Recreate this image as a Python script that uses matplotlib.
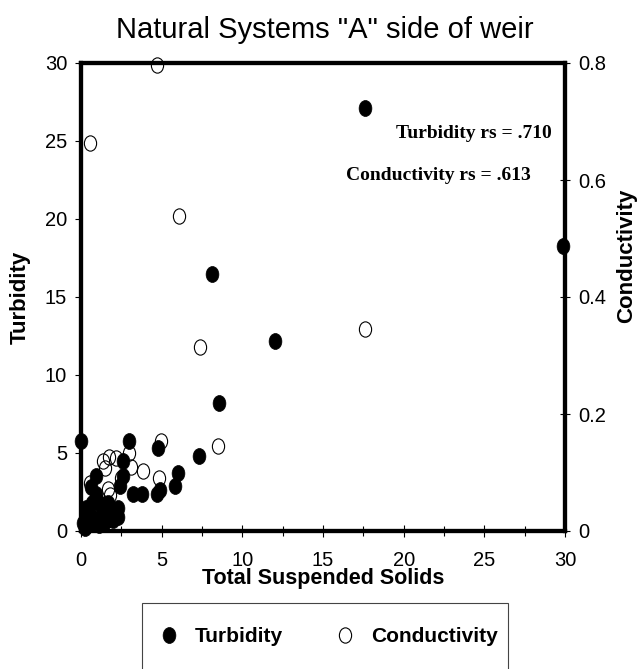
import matplotlib
matplotlib.use("Agg")
import matplotlib.pyplot as plt
from matplotlib.path import Path
from matplotlib.transforms import Affine2D
from matplotlib.patches import Rectangle
from matplotlib.ticker import MultipleLocator

plt.rcParams['font.family'] = ['Liberation Sans', 'DejaVu Sans']

# ---- data ----
turb_tss = [0.0, 17.6, 29.9, 8.1, 12.0, 8.55, 3.0, 4.8, 7.3, 6.0, 5.8, 2.6, 2.6,
            2.4, 3.2, 3.8, 4.7, 4.9, 0.9, 0.9, 0.7, 1.5, 2.1, 2.3, 1.6, 0.9,
            0.45, 0.25, 1.1, 1.8, 1.3, 0.5, 0.1, 1.2, 1.7, 2.0, 0.3, 2.3, 1.4,
            0.6, 1.0]
turbidity = [5.8, 27.1, 18.3, 16.5, 12.2, 8.2, 5.8, 5.3, 4.8, 3.7, 2.9, 4.5, 3.5,
             2.9, 2.4, 2.4, 2.4, 2.6, 3.5, 2.4, 1.8, 1.5, 1.3, 0.9, 0.7, 0.8,
             0.4, 0.2, 0.4, 1.1, 1.1, 1.1, 0.5, 1.7, 1.8, 0.7, 1.5, 1.5, 0.5,
             2.8, 2.0]
cond_tss = [4.7, 0.56, 6.05, 17.6, 7.4, 8.5, 4.96, 3.85, 4.84, 1.38, 1.75, 2.2,
            1.5, 2.98, 3.1, 1.7, 1.8, 0.56, 1.0, 0.5, 2.5]
conductivity = [0.797, 0.664, 0.538, 0.345, 0.315, 0.145, 0.153, 0.102, 0.09,
                0.12, 0.126, 0.125, 0.108, 0.133, 0.11, 0.072, 0.062, 0.082,
                0.05, 0.03, 0.09]
x_ticks = [0, 5, 10, 15, 20, 25, 30]
y_ticks = [0, 5, 10, 15, 20, 25, 30]
c_ticks = [0, 0.2, 0.4, 0.6, 0.8]
c_tick_labels = ['0', '0.2', '0.4', '0.6', '0.8']
title = 'Natural Systems "A" side of weir'
notes = ['Turbidity rs = .710', 'Conductivity rs = .613']

# ---- figure ----
fig = plt.figure(figsize=(6.4, 6.69), dpi=100)
ax = fig.add_axes([81/640, 1-531/669, 484/640, 468/669])
ax2 = ax.twinx()
ax.set_zorder(ax2.get_zorder() + 1)
ax.patch.set_visible(False)

ell = Path.unit_circle().transformed(Affine2D().scale(0.8, 1.0))

l2, = ax2.plot(cond_tss, conductivity, linestyle='none', marker=ell, ms=11,
               mfc='none', mec='black', mew=0.8, clip_on=False)
l1, = ax.plot(turb_tss, turbidity, linestyle='none', marker=ell, ms=11.5,
              mfc='black', mec='black', mew=0.5, clip_on=False)

ax.set_xlim(0, 30)
ax.set_ylim(0, 30)
ax2.set_ylim(0, 0.8)
ax.set_xticks(x_ticks)
ax.set_yticks(y_ticks)
ax2.set_yticks(c_ticks)
ax2.set_yticklabels(c_tick_labels)
ax.xaxis.set_minor_locator(MultipleLocator(2.5))

for a in (ax, ax2):
    for s in a.spines.values():
        s.set_linewidth(3)

ax.tick_params(axis='x', which='major', direction='inout', length=9, width=0.8,
               labelsize=14.5, pad=10)
ax.tick_params(axis='x', which='minor', direction='inout', length=7, width=0.8)
ax.tick_params(axis='y', which='major', direction='out', length=4, width=0.8,
               labelsize=14.5, pad=6)
ax2.tick_params(axis='y', which='major', direction='inout', length=7, width=0.8,
                labelsize=14.5, pad=6)

ax.set_xlabel('Total Suspended Solids', fontsize=15.5, fontweight='bold')
ax.xaxis.set_label_coords(0.5, -0.08)
ax.set_ylabel('Turbidity', fontsize=16, fontweight='bold', va='center', ha='center')
ax.yaxis.set_label_coords(-0.126, 0.5)
ax2.set_ylabel('Conductivity', fontsize=16, fontweight='bold', va='center',
               ha='center', rotation=90)
ax2.yaxis.set_label_coords(1.128, 0.588)

fig.text(325/640, 1-30/669, title, ha='center', va='center', fontsize=21)

ax.text(29.2, 25.5, notes[0], ha='right', va='center', fontsize=14,
        fontweight='bold', family=['Liberation Serif', 'DejaVu Serif'])
ax.text(27.9, 22.8, notes[1], ha='right', va='center', fontsize=14,
        fontweight='bold', family=['Liberation Serif', 'DejaVu Serif'])

# legend
fig.legend([l1, l2], ['Turbidity', 'Conductivity'], ncol=2, loc='center',
           bbox_to_anchor=(328/640, 1-637/669), frameon=False,
           prop={'weight': 'bold', 'size': 15}, handlelength=1.0,
           handletextpad=0.75, columnspacing=2.45, numpoints=1)
fig.add_artist(Rectangle((142/640, -0.1), (508-142)/640, 0.1 + (1-602.7/669),
                         transform=fig.transFigure, fill=False, lw=0.8,
                         edgecolor='#444444', clip_on=False))

fig.savefig('out.png', dpi=100)
